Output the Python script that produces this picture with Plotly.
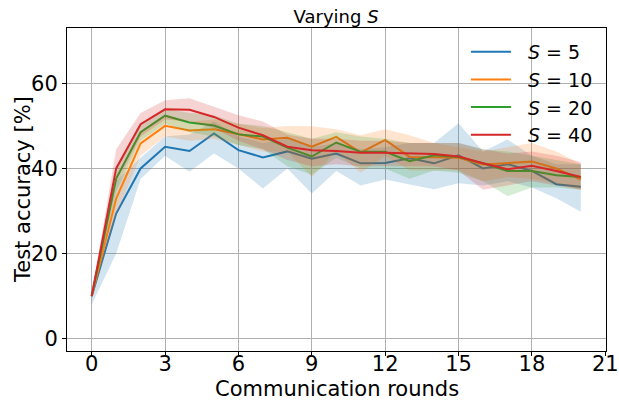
import plotly.graph_objects as go

rounds = list(range(21))

s_labels = ["<i>S</i> = 5", "<i>S</i> = 10", "<i>S</i> = 20", "<i>S</i> = 40"]
colors = ["#1f77b4", "#ff7f0e", "#2ca02c", "#d62728"]

blue_mean = [10, 29.4, 40, 45.1, 44.1, 48.2, 44.3, 42.6, 44.0, 42.3, 43.5, 41.2, 41.3, 42.4, 41.2, 43.1, 40.0, 41.0, 39.4, 36.3, 35.7]
blue_low = [8, 20, 37.5, 43, 39.2, 43.5, 40, 35.3, 40, 34.1, 39.4, 36, 37.4, 36.2, 35.1, 36.5, 36, 37, 35.5, 33, 29.8]
blue_high = [12, 37, 42.5, 47.5, 48, 51, 47.5, 46, 47, 45, 46, 44.5, 45, 46, 46, 50.6, 44, 46.8, 43, 41, 41]

orange_mean = [10, 32.9, 45.9, 50, 48.9, 49.2, 48.1, 46.8, 47.2, 45.1, 47.4, 43.7, 46.7, 42.7, 42.6, 42.5, 40.9, 41.3, 41.6, 40, 37.4]
orange_low = [9.5, 29, 43, 47.5, 46.5, 47, 45.5, 44, 44, 38, 44, 39, 43, 39.5, 39.5, 39.5, 37, 38, 37.5, 36.5, 35]
orange_high = [10.5, 36, 48.5, 52, 51, 51.5, 50.5, 49.5, 50, 49.9, 49.2, 47.8, 49.2, 47.8, 46, 45, 44, 45, 46, 44, 41]

green_mean = [10, 37.6, 48.5, 52.4, 50.8, 50.1, 48, 47.5, 44.9, 42.8, 46.1, 43.9, 43.9, 41.7, 43.1, 42.7, 41.2, 39.4, 39.4, 38.4, 38]
green_low = [9.5, 34.5, 46.5, 50.5, 48.5, 47.5, 45.5, 44.5, 40.5, 38.5, 42.5, 40, 40, 37.6, 39.5, 39, 37, 33.5, 35.5, 35.5, 35]
green_high = [10.5, 40, 50.5, 54, 53, 52.5, 50.5, 50, 48.5, 47, 48.5, 47.5, 47, 46, 46, 46, 44.5, 44, 43, 42, 41]

red_mean = [10, 40, 50.4, 53.9, 53.8, 52.1, 49.6, 47.8, 45.1, 44.3, 44.1, 43.7, 43.7, 43.5, 43.4, 42.8, 41.2, 39.8, 40.6, 39.4, 38]
red_low = [9.5, 36, 47.5, 51.5, 51, 49.5, 46.5, 44.5, 42, 40.5, 41, 40.5, 40.5, 40.5, 40.5, 39.5, 35, 36, 37, 36, 35]
red_high = [10.5, 44.5, 53, 56, 56.5, 54.5, 52.5, 51, 48, 47, 47, 46.5, 46.5, 46, 46, 46, 44.5, 43.5, 44, 43, 41.5]

x_ticks = [0, 3, 6, 9, 12, 15, 18, 21]
y_ticks = [0, 20, 40, 60]

series = [
    (blue_mean, blue_low, blue_high),
    (orange_mean, orange_low, orange_high),
    (green_mean, green_low, green_high),
    (red_mean, red_low, red_high),
]

def rgba(hexc, a):
    h = hexc.lstrip("#")
    r, g, b = int(h[0:2], 16), int(h[2:4], 16), int(h[4:6], 16)
    return f"rgba({r},{g},{b},{a})"

FONT = "DejaVu Sans"
fig = go.Figure()
for (m, lo, hi), c, lab in zip(series, colors, s_labels):
    fig.add_trace(go.Scatter(x=rounds, y=m, mode="lines", name="\u00a0\u00a0" + lab,
                             line=dict(color=c, width=2)))
    fig.add_trace(go.Scatter(x=rounds + rounds[::-1], y=hi + lo[::-1],
                             fill="toself", fillcolor=rgba(c, 0.2),
                             line=dict(width=0), mode="lines",
                             showlegend=False, hoverinfo="skip"))

axis_common = dict(showline=True, mirror=True, linecolor="black", linewidth=1,
                   showgrid=True, gridcolor="#b0b0b0", gridwidth=1,
                   zeroline=False, ticks="outside", ticklen=4, tickcolor="black",
                   automargin=False,
                   tickfont=dict(family=FONT, size=21, color="black"))

fig.update_layout(
    width=619, height=402,
    margin=dict(l=67, r=13, t=28, b=51),
    paper_bgcolor="white", plot_bgcolor="white",
    title=dict(text="Varying <i>S</i>", x=0.543, xanchor="center",
               y=1 - 17 / 402, yanchor="middle", yref="container",
               font=dict(family=FONT, size=18, color="black")),
    xaxis=dict(range=[-1.01, 21.03], tickvals=x_ticks, ticklabelstandoff=-10,
               **axis_common),
    yaxis=dict(range=[-2.9, 73], tickvals=y_ticks,
               **axis_common),
    legend=dict(x=0.985, xanchor="right", y=0.985, yanchor="top",
                bgcolor="rgba(0,0,0,0)", borderwidth=0,
                font=dict(family=FONT, size=19, color="black"),
                itemwidth=40, tracegroupgap=0),
    showlegend=True,
    annotations=[
        dict(text="Communication rounds", xref="paper", yref="paper",
             x=0.5, y=0, xanchor="center", yanchor="middle", yshift=-38,
             showarrow=False, font=dict(family=FONT, size=21, color="black")),
        dict(text="Test accuracy [%]", xref="paper", yref="paper",
             x=0, y=0.5, xanchor="center", yanchor="middle", xshift=-44.5,
             textangle=-90, showarrow=False,
             font=dict(family=FONT, size=21, color="black")),
    ],
)

fig.write_html("out.html")
